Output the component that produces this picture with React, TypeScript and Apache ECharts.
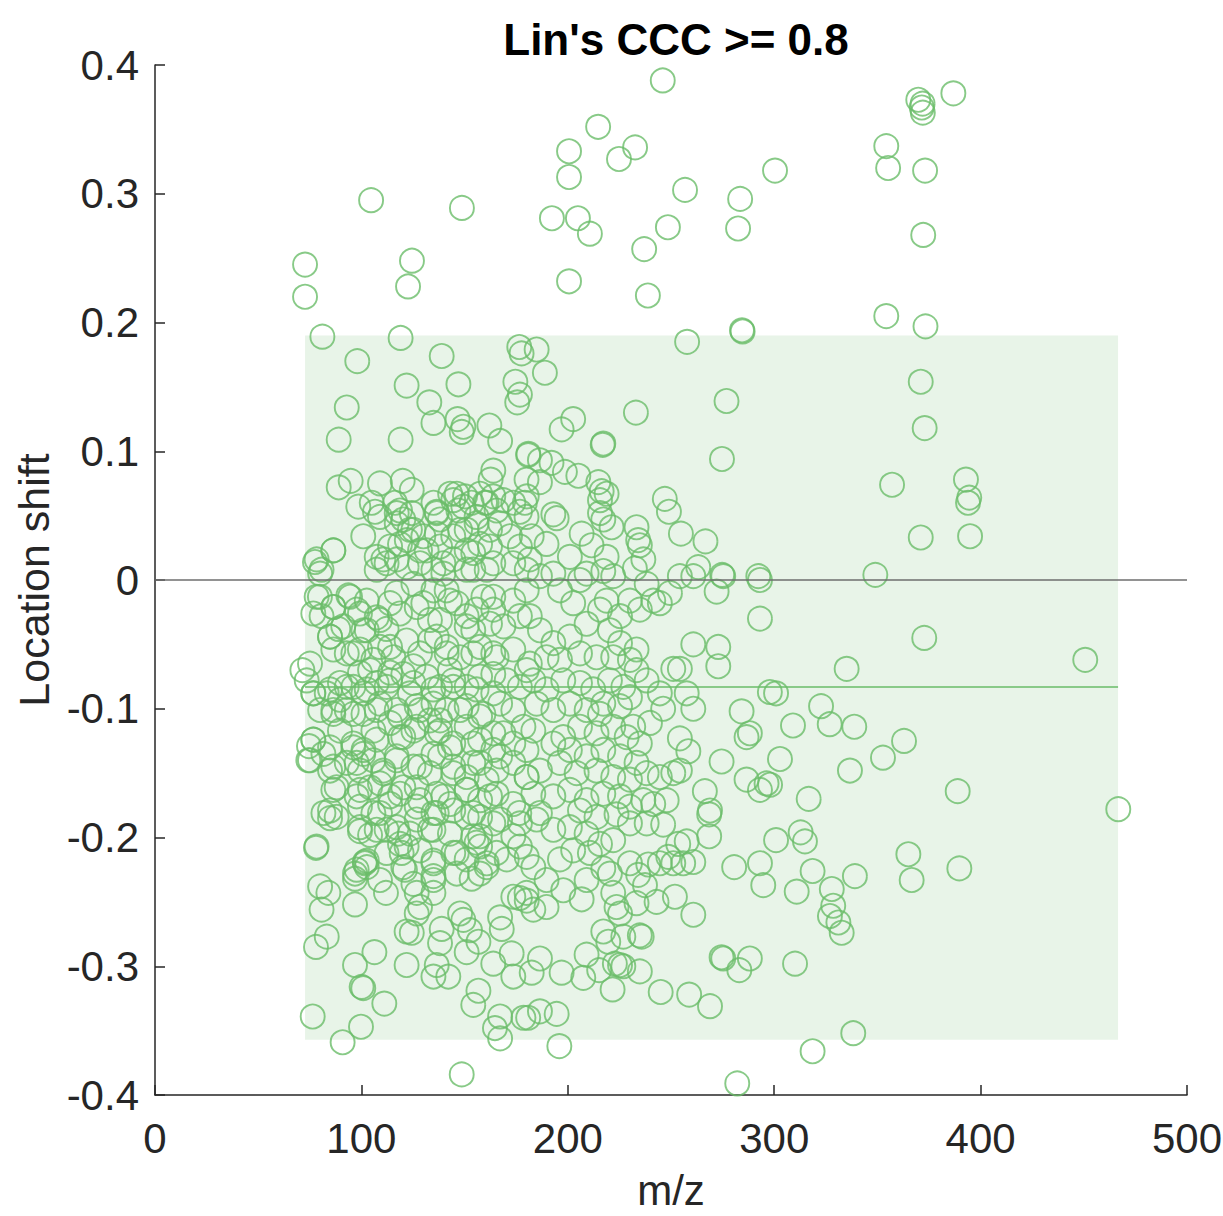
import React, { useEffect, useRef } from "react";
import * as echarts from "echarts";

// ---- Data (m/z, location shift) ----
const topOutliers: number[][] = [
  [72.7,0.245],[72.7,0.220],[81.1,0.189],[104.7,0.295],[148.7,0.289],[124.5,0.248],[122.6,0.228],[119.0,0.188],
  [246.0,0.388],[214.7,0.352],[200.6,0.333],[232.6,0.336],[224.8,0.327],[200.6,0.313],[192.3,0.281],[204.9,0.281],
  [210.7,0.269],[248.5,0.274],[237.0,0.257],[200.6,0.232],[238.8,0.221],[256.8,0.303],[283.5,0.296],[300.4,0.318],
  [282.5,0.273],[284.4,0.194],[257.8,0.185],[369.8,0.373],[371.5,0.367],[372.0,0.363],[371.9,0.370],[386.8,0.378],
  [354.3,0.337],[355.2,0.320],[373.1,0.318],[372.2,0.268],[354.3,0.205],[373.3,0.197]
];

const rightSide: number[][] = [
  [371.0,0.154],[372.9,0.118],[357.1,0.074],[392.9,0.078],[394.5,0.064],[393.9,0.060],[394.9,0.034],[371.0,0.033],
  [349.0,0.004],[372.7,-0.045],[335.1,-0.069],[450.7,-0.062],[300.9,-0.088],[322.7,-0.098],[326.9,-0.112],[338.8,-0.114],
  [309.1,-0.113],[362.9,-0.125],[352.7,-0.138],[336.7,-0.148],[302.8,-0.139],[298.0,-0.159],[316.7,-0.170],[388.9,-0.164],
  [466.7,-0.178],[312.8,-0.196],[314.9,-0.203],[300.9,-0.202],[318.6,-0.226],[339.1,-0.230],[365.0,-0.213],[366.6,-0.233],
  [389.7,-0.224],[310.9,-0.242],[327.9,-0.240],[328.6,-0.253],[327.0,-0.261],[331.1,-0.266],[332.7,-0.274],[310.1,-0.298],
  [338.3,-0.352],[318.6,-0.366]
];

const upperLeft: number[][] = [
  [98.0,0.170],[138.9,0.174],[121.9,0.151],[147.0,0.152],[92.9,0.134],[132.9,0.138],[134.9,0.122],[146.6,0.125],
  [149.4,0.119],[148.6,0.115],[162.0,0.120],[167.2,0.108],[89.0,0.109],[119.0,0.109],[176.5,0.181],[177.6,0.176],
  [174.6,0.154],[176.8,0.144],[175.5,0.138],[180.9,0.098],[89.0,0.072],[94.8,0.077],[109.0,0.075],[120.0,0.077],
  [163.9,0.085],[162.6,0.078],
  [98.5,0.057],[105.0,0.060],[106.6,0.053],[109.0,0.049],[116.3,0.060],[117.1,0.052],[120.3,0.047],[124.4,0.052],
  [125.2,0.039],[122.0,0.031],[130.0,0.034],[134.9,0.060],[136.5,0.053],[138.1,0.047],[143.0,0.067],[144.5,0.062],
  [147.0,0.054],[150.2,0.065],[153.4,0.060],[155.8,0.049],[157.5,0.067],[159.9,0.060],[163.9,0.065],[165.5,0.054],
  [168.8,0.062],[173.6,0.060],[176.8,0.053],[180.1,0.065],[100.9,0.034],[86.4,0.023],[78.3,0.016],[80.7,0.008],
  [107.4,0.018],[112.2,0.013],[117.1,0.016],[121.9,0.010],[128.4,0.013],[134.9,0.008],[139.7,0.013],[144.5,0.016],
  [151.0,0.023],[157.5,0.028],[162.3,0.039],[167.2,0.044],[172.0,0.034],[176.8,0.026],[173.6,0.013],[180.1,0.008],
  [163.9,0.013],[154.2,0.008],[131.6,0.023],[144.5,0.034],[136.5,0.036],[151.0,0.039],[77.5,0.014]
];

const coreUpper: number[][] = [
  [124.4,0.070],[118.7,0.054],[117.1,0.044],[123.5,0.039],[136.5,0.052],[146.2,0.067],[149.4,0.057],[160.7,0.060],
  [155.8,0.044],[147.8,0.039],[138.1,0.026],[128.4,0.023],[118.7,0.028],[86.4,0.023],[110.6,0.016],[154.2,0.021],
  [162.3,0.026],[160.7,0.008],[151.0,0.008],[139.7,0.005],[107.4,0.008],[113.9,0.026],[79.9,-0.013],[76.7,-0.026],
  [86.4,-0.021],[94.5,-0.013],[99.3,-0.026],[91.2,-0.036],[84.8,-0.044],[102.6,-0.039],[109.0,-0.031],[118.7,-0.026],
  [113.9,-0.052],[105.8,-0.062],[96.1,-0.057],[86.4,-0.054],[75.1,-0.065],[126.8,-0.021],[134.9,-0.008],[142.9,-0.016],
  [138.1,-0.031],[133.2,-0.047],[141.3,-0.052],[151.0,-0.036],[155.8,-0.023],[163.9,-0.013],[162.3,-0.034],[154.2,-0.057],
  [163.9,-0.057],[125.2,-0.067],[113.9,-0.072],[142.9,-0.070],[99.3,-0.072]
];

const coreLower: number[][] = [
  [73.5,-0.078],[76.7,-0.088],[84.8,-0.085],[92.9,-0.083],[102.6,-0.085],[112.2,-0.083],[123.5,-0.088],[134.8,-0.085],
  [144.5,-0.083],[155.8,-0.085],[163.9,-0.088],[86.4,-0.101],[96.1,-0.104],[107.4,-0.101],[118.7,-0.106],[128.4,-0.101],
  [138.1,-0.109],[147.8,-0.101],[159.1,-0.104],[76.7,-0.124],[84.8,-0.130],[96.1,-0.130],[100.9,-0.135],[107.4,-0.124],
  [118.7,-0.122],[125.2,-0.117],[136.5,-0.119],[142.9,-0.130],[154.2,-0.127],[163.9,-0.119],[167.2,-0.137],[75.1,-0.140],
  [86.4,-0.145],[97.7,-0.142],[110.6,-0.148],[117.1,-0.140],[128.4,-0.145],[134.9,-0.135],[144.5,-0.150],[154.2,-0.142],
  [160.7,-0.155],[88.0,-0.161],[99.3,-0.163],[109.0,-0.158],[118.7,-0.166],[126.8,-0.161],[139.7,-0.168],[151.0,-0.163],
  [162.3,-0.168],[81.6,-0.181],[88.0,-0.184],[99.3,-0.176],[105.8,-0.181],[113.9,-0.174],[126.8,-0.176],[134.9,-0.181],
  [144.5,-0.179],[154.2,-0.181],[99.3,-0.192],[107.4,-0.194],[117.1,-0.192],[123.5,-0.197],[133.2,-0.194],[142.9,-0.197],
  [154.2,-0.199],[163.9,-0.189],[78.3,-0.207],[102.6,-0.218],[112.2,-0.212],[118.7,-0.205],[128.4,-0.210],[134.9,-0.218],
  [146.2,-0.212],[157.5,-0.207],[160.7,-0.223],[97.7,-0.225],[102.6,-0.223],[120.3,-0.223],[134.9,-0.230],[146.2,-0.228]
];

const upperMid: number[][] = [
  [284.7,0.193],[276.9,0.139],[274.7,0.094],[233.0,0.130],[184.9,0.179],[188.9,0.161],[197.0,0.117],[202.6,0.125],
  [216.9,0.105],[217.2,0.106],[247.0,0.063],[249.0,0.053],[254.8,0.036],[266.7,0.030],[263.2,0.010],[274.8,0.004],
  [292.3,0.003],[180.8,0.097],[186.5,0.093],[192.1,0.091],[198.6,0.084],[205.1,0.081],[186.5,0.076],[180.0,0.078],
  [214.8,0.076],[216.4,0.069],[218.8,0.067],[215.6,0.062],[179.2,0.060],[180.0,0.049],[193.0,0.051],[194.6,0.048],
  [215.6,0.052],[217.2,0.047],[221.2,0.041],[206.7,0.036],[211.5,0.027],[233.3,0.041],[234.1,0.031],[234.9,0.027],
  [236.6,0.016],[218.8,0.018],[201.0,0.018],[189.7,0.028],[182.5,0.034],[181.6,0.016],[193.0,0.005],[209.1,0.005],
  [217.2,0.007],[232.5,0.009]
];

const midLeft: number[][] = [
  [71.4,-0.070],[80.0,0.005],[78.3,-0.013],[80.7,-0.028],[86.4,-0.021],[88.8,-0.038],[84.8,-0.044],[93.7,-0.012],
  [97.7,-0.023],[102.6,-0.016],[101.0,-0.039],[107.4,-0.029],[112.2,-0.038],[113.9,-0.018],[121.9,-0.047],[117.1,-0.010],
  [125.2,-0.003],[130.0,-0.018],[133.2,-0.031],[136.5,-0.044],[141.3,-0.008],[146.2,-0.018],[151.0,-0.028],[154.2,-0.039],
  [159.1,-0.013],[163.9,-0.023],[168.8,-0.036],[173.6,-0.016],[176.8,-0.028],[180.1,-0.008],[92.9,-0.057],[99.3,-0.054],
  [109.0,-0.052],[115.5,-0.060],[128.4,-0.057],[141.3,-0.057],[147.8,-0.060],[157.5,-0.052],[165.5,-0.060],[173.6,-0.054],
  [104.2,-0.070],[107.4,-0.080],[89.6,-0.080],[76.7,-0.088],[83.2,-0.088],[89.6,-0.093],[96.1,-0.083],[101.0,-0.088],
  [113.9,-0.078],[120.3,-0.073],[125.2,-0.080],[131.6,-0.075],[138.1,-0.083],[144.5,-0.078],[151.0,-0.083],[157.5,-0.075],
  [163.9,-0.073],[170.4,-0.078],[176.8,-0.083],[180.1,-0.070],[80.0,-0.101],[86.4,-0.104],[92.9,-0.101],[101.0,-0.104],
  [109.0,-0.096],[117.1,-0.101],[126.8,-0.098],[134.9,-0.096],[141.3,-0.101],[151.0,-0.098],[157.5,-0.106],[167.2,-0.096],
  [173.6,-0.101],[168.8,-0.119],[76.7,-0.124],[74.3,-0.140],[81.6,-0.135],[89.6,-0.117],[96.1,-0.127],[101.0,-0.132],
  [105.8,-0.117],[113.9,-0.111],[120.3,-0.122],[126.8,-0.114],[133.2,-0.109],[138.1,-0.117],[144.5,-0.127],[151.0,-0.114],
  [157.5,-0.124],[163.9,-0.132],[173.6,-0.127],[178.5,-0.114],[84.8,-0.148],[92.9,-0.142],[99.3,-0.148],[105.8,-0.140],
  [110.6,-0.150],[117.1,-0.137],[125.2,-0.145],[133.2,-0.150],[138.1,-0.137],[144.5,-0.145],[151.0,-0.153],[157.5,-0.142],
  [165.5,-0.148],[173.6,-0.142],[180.1,-0.153],[86.4,-0.163],[97.7,-0.168],[104.2,-0.161],[113.9,-0.168],[120.3,-0.161],
  [128.4,-0.171],[136.5,-0.166],[143.0,-0.174],[151.0,-0.163],[157.5,-0.171],[165.5,-0.166],[173.6,-0.174],[84.8,-0.179],
  [109.0,-0.181],[136.5,-0.181],[176.5,-0.181],[74.6,-0.129]
];

const midRight: number[][] = [
  [293.1,0.000],[293.1,-0.030],[272.1,-0.009],[260.8,0.003],[275.3,0.003],[249.5,-0.010],[241.4,-0.016],[244.6,-0.018],
  [260.8,-0.050],[272.9,-0.052],[272.9,-0.067],[251.1,-0.069],[254.3,-0.069],[257.6,-0.088],[260.8,-0.100],[244.6,-0.088],
  [246.2,-0.100],[284.2,-0.102],[288.2,-0.119],[286.6,-0.122],[297.9,-0.087],[254.3,-0.123],[258.4,-0.133],[274.5,-0.141],
  [286.6,-0.155],[293.1,-0.163],[296.3,-0.158],[266.4,-0.164],[268.9,-0.179],[241.4,-0.174],[247.9,-0.171],[251.1,-0.150],
  [254.3,-0.148],[244.6,-0.153],[233.3,-0.054],[230.1,-0.062],[225.3,-0.049],[220.4,-0.039],[215.6,-0.023],[218.8,-0.016],
  [230.1,-0.016],[234.9,-0.023],[225.3,-0.028],[202.6,-0.018],[196.2,-0.008],[186.5,0.003],[205.9,0.000],[222.0,0.003],
  [238.2,-0.003],[254.3,0.003],[209.1,-0.034],[201.0,-0.044],[193.0,-0.049],[186.5,-0.039],[181.6,-0.028],[213.9,-0.060],
  [222.0,-0.060],[205.9,-0.057],[196.2,-0.062],[189.7,-0.060],[181.6,-0.065],[233.3,-0.070],[238.2,-0.078],[226.9,-0.083],
  [220.4,-0.078],[212.3,-0.085],[205.9,-0.080],[197.8,-0.078],[189.7,-0.085],[183.3,-0.078],[230.1,-0.091],[225.3,-0.098],
  [217.2,-0.096],[215.6,-0.104],[209.1,-0.101],[201.0,-0.096],[193.0,-0.101],[184.9,-0.096],[239.8,-0.111],[231.7,-0.114],
  [228.5,-0.122],[234.9,-0.127],[222.0,-0.114],[213.9,-0.119],[205.9,-0.114],[197.8,-0.122],[193.0,-0.127],[183.3,-0.117],
  [180.0,-0.132],[201.0,-0.132],[209.1,-0.137],[217.2,-0.132],[225.3,-0.137],[233.3,-0.142],[238.2,-0.150],[230.1,-0.155],
  [222.0,-0.153],[213.9,-0.148],[204.3,-0.150],[196.2,-0.142],[186.5,-0.148],[180.0,-0.153],[225.3,-0.168],[217.2,-0.166],
  [209.1,-0.171],[201.0,-0.163],[193.0,-0.168],[183.3,-0.166],[230.1,-0.176],[236.6,-0.171],[205.9,-0.179],[186.5,-0.181]
];

const lowerLeft: number[][] = [
  [78.0,-0.208],[80.0,-0.238],[84.0,-0.243],[80.7,-0.256],[83.2,-0.277],[78.0,-0.285],[76.4,-0.339],[90.9,-0.359],
  [99.8,-0.347],[148.6,-0.384],[96.9,-0.228],[96.9,-0.232],[101.7,-0.220],[101.7,-0.219],[96.9,-0.252],[109.0,-0.233],
  [111.9,-0.243],[96.9,-0.299],[106.3,-0.289],[100.1,-0.316],[100.9,-0.317],[111.1,-0.329],[121.9,-0.299],[84.8,-0.185],
  [99.3,-0.195],[104.2,-0.198],[112.2,-0.194],[117.9,-0.197],[126.8,-0.186],[134.9,-0.194],[121.9,-0.207],[119.5,-0.212],
  [121.1,-0.225],[125.2,-0.236],[126.8,-0.243],[134.9,-0.233],[134.9,-0.243],[134.9,-0.220],[128.4,-0.254],[126.8,-0.259],
  [124.4,-0.274],[121.9,-0.273],[138.9,-0.271],[138.1,-0.282],[136.5,-0.299],[134.9,-0.308],[142.1,-0.308],[147.8,-0.259],
  [149.4,-0.264],[152.6,-0.272],[156.7,-0.281],[151.0,-0.289],[156.7,-0.319],[154.2,-0.330],[167.2,-0.339],[164.7,-0.348],
  [167.2,-0.356],[178.5,-0.340],[163.9,-0.298],[173.6,-0.308],[172.8,-0.290],[168.0,-0.271],[167.2,-0.262],[144.5,-0.212],
  [151.0,-0.217],[153.4,-0.232],[157.5,-0.228],[160.7,-0.220],[155.8,-0.204],[157.5,-0.199],[165.5,-0.212],[170.4,-0.217],
  [173.6,-0.199],[176.8,-0.207],[173.6,-0.246],[176.8,-0.247],[180.1,-0.249],[151.0,-0.184],[157.5,-0.184],[167.2,-0.186],
  [176.8,-0.189],[180.1,-0.215]
];

const lowerMid: number[][] = [
  [268.5,-0.182],[268.5,-0.199],[280.6,-0.223],[293.1,-0.220],[294.7,-0.237],[260.8,-0.260],[251.9,-0.246],[243.0,-0.250],
  [230.1,-0.220],[234.1,-0.229],[237.4,-0.237],[239.0,-0.221],[244.6,-0.220],[248.7,-0.215],[253.5,-0.205],[257.6,-0.203],
  [260.8,-0.219],[255.9,-0.220],[251.1,-0.220],[238.2,-0.189],[246.2,-0.190],[274.5,-0.293],[275.3,-0.294],[283.1,-0.303],
  [288.2,-0.294],[268.9,-0.331],[258.8,-0.322],[245.0,-0.320],[195.9,-0.362],[282.1,-0.391],[234.9,-0.276],[235.8,-0.277],
  [226.9,-0.277],[217.2,-0.273],[219.6,-0.281],[225.3,-0.299],[226.9,-0.300],[222.8,-0.298],[234.9,-0.304],[215.2,-0.303],
  [207.5,-0.309],[209.1,-0.291],[221.7,-0.318],[197.0,-0.305],[186.5,-0.294],[182.5,-0.305],[194.6,-0.337],[186.5,-0.335],
  [180.8,-0.340],[223.6,-0.254],[222.0,-0.243],[233.3,-0.251],[225.3,-0.259],[206.7,-0.248],[220.4,-0.228],[217.2,-0.224],
  [209.1,-0.233],[197.8,-0.241],[189.7,-0.254],[183.3,-0.256],[180.0,-0.243],[189.7,-0.233],[183.3,-0.223],[196.2,-0.217],
  [202.6,-0.210],[210.7,-0.212],[215.6,-0.205],[222.0,-0.202],[209.1,-0.197],[201.0,-0.192],[193.0,-0.194],[184.9,-0.186],
  [213.9,-0.184],[223.6,-0.182],[230.1,-0.189]
];

const allPoints = [
  ...topOutliers, ...rightSide, ...upperLeft, ...coreUpper, ...upperMid,
  ...midLeft, ...coreLower, ...midRight, ...lowerLeft, ...lowerMid,
];

// shaded band limits and reference lines
const bandX = [72.7, 466.6];
const bandY = [-0.357, 0.19];
const meanShift = -0.083;
const xTicks = { min: 0, max: 500, interval: 100 };
const yTicks = { min: -0.4, max: 0.4, interval: 0.1 };

const GREEN = "#6abd69";
const AXIS = "#262626";
const FONT = "Liberation Sans, Arial, Helvetica, sans-serif";

export default function App() {
  const ref = useRef<HTMLDivElement>(null);
  useEffect(() => {
    document.body.style.margin = "0";
    if (!ref.current) return;
    const chart = echarts.init(ref.current, undefined, { renderer: "svg" });
    chart.setOption({
      animation: false,
      title: {
        text: "Lin's CCC >= 0.8",
        left: 671,
        top: 12,
        textAlign: "center",
        textStyle: { fontFamily: FONT, fontSize: 44, fontWeight: "bold", color: "#000" },
      },
      grid: { left: 155, right: 36, top: 65, bottom: 121, outerBoundsMode: "none", containLabel: false },
      xAxis: {
        type: "value",
        ...xTicks,
        name: "m/z",
        nameLocation: "middle",
        nameGap: 74,
        nameTextStyle: { fontFamily: FONT, fontSize: 42, color: AXIS },
        axisLine: { show: true, onZero: false, lineStyle: { color: AXIS, width: 1.5 } },
        axisTick: { show: true, inside: true, length: 10, lineStyle: { color: AXIS, width: 1.5 } },
        axisLabel: { fontFamily: FONT, fontSize: 42, color: AXIS, margin: 22 },
        splitLine: { show: false },
      },
      yAxis: {
        type: "value",
        ...yTicks,
        name: "Location shift",
        nameLocation: "middle",
        nameGap: 100,
        nameTextStyle: { fontFamily: FONT, fontSize: 43, color: AXIS },
        axisLine: { show: true, onZero: false, lineStyle: { color: AXIS, width: 1.5 } },
        axisTick: { show: true, inside: true, length: 10, lineStyle: { color: AXIS, width: 1.5 } },
        axisLabel: {
          fontFamily: FONT,
          fontSize: 42,
          color: AXIS,
          margin: 16,
          formatter: (v: number) => (Math.abs(v) < 1e-9 ? "0" : v.toFixed(1)),
        },
        splitLine: { show: false },
      },
      series: [
        {
          type: "scatter",
          data: [],
          z: 1,
          silent: true,
          markArea: {
            silent: true,
            itemStyle: { color: "#e8f4e8" },
            data: [[{ coord: [bandX[0], bandY[1]] }, { coord: [bandX[1], bandY[0]] }]],
          },
        },
        {
          type: "scatter",
          data: allPoints,
          z: 3,
          symbol: "circle",
          symbolSize: 24,
          itemStyle: { color: "rgba(0,0,0,0)", borderColor: GREEN, borderWidth: 1.9 },
          emphasis: { disabled: true },
          markLine: {
            silent: true,
            symbol: ["none", "none"],
            label: { show: false },
            data: [
              [
                { coord: [xTicks.min, 0], lineStyle: { color: "#6e6e6e", width: 1.6, type: "solid" } },
                { coord: [xTicks.max, 0] },
              ],
              [
                { coord: [bandX[0], meanShift], lineStyle: { color: GREEN, width: 1.6, type: "solid" } },
                { coord: [bandX[1], meanShift] },
              ],
            ],
          },
        },
      ],
    });
    return () => chart.dispose();
  }, []);
  return <div ref={ref} style={{ width: 1223, height: 1216 }} />;
}
